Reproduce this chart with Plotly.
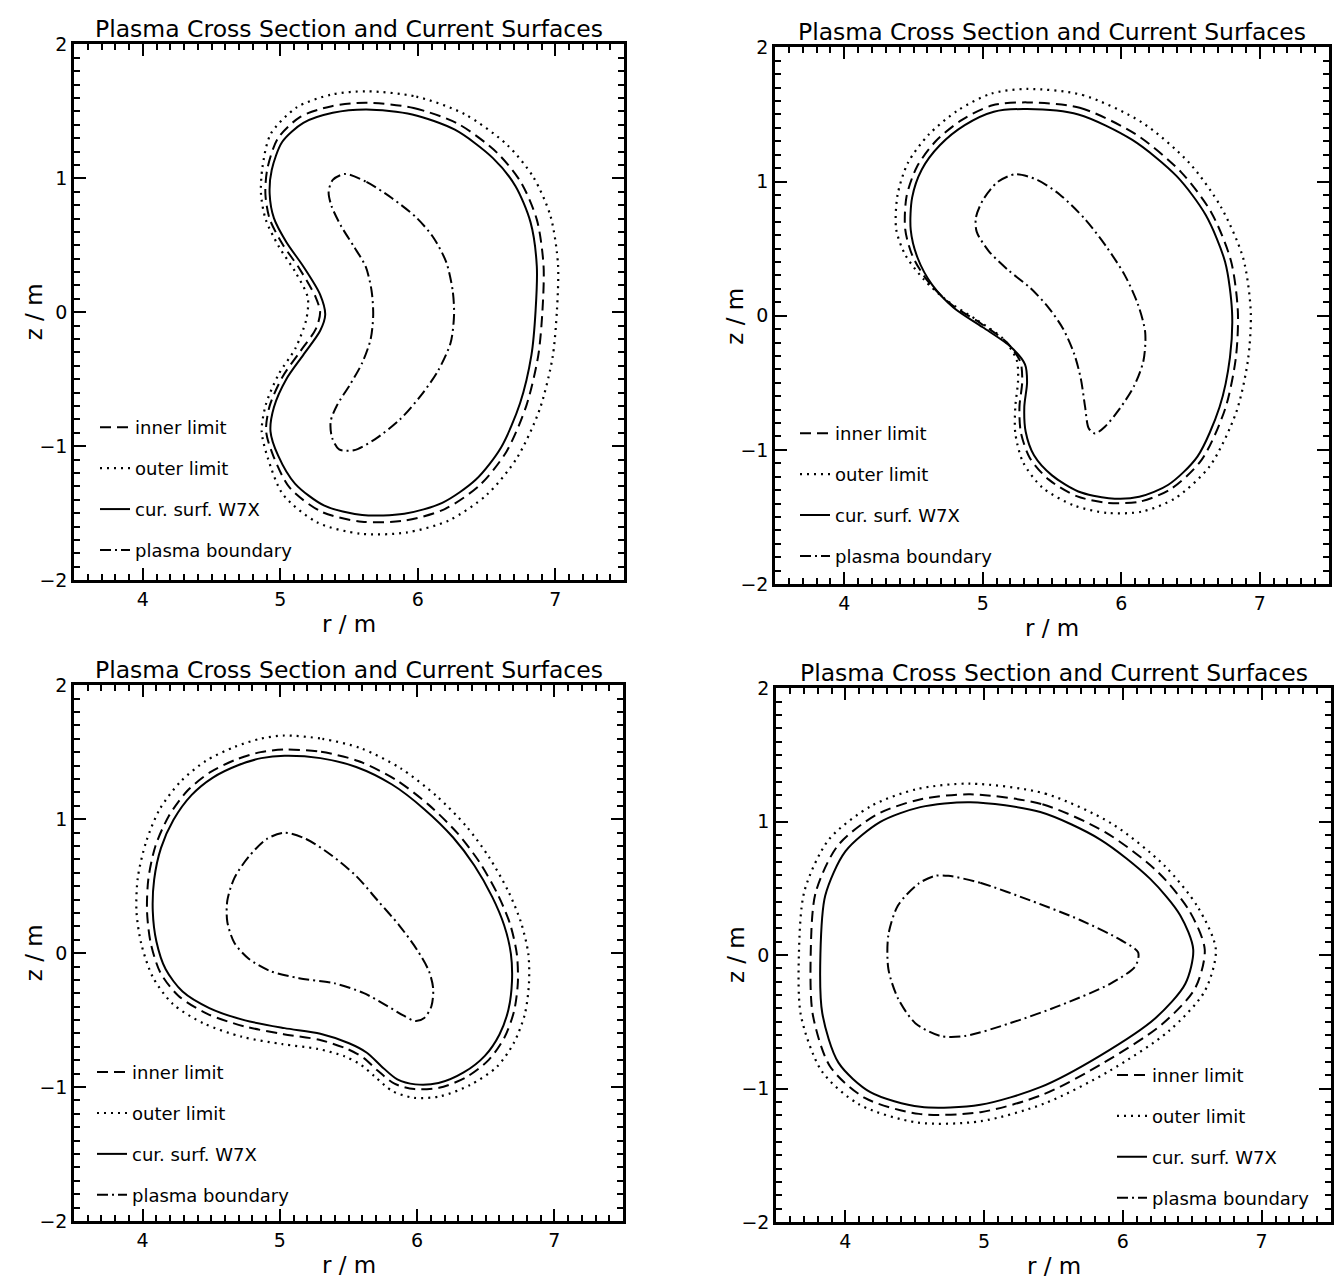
import plotly.graph_objects as go

W, H = 1341, 1288
FONT = "DejaVu Sans"

TITLE = "Plasma Cross Section and Current Surfaces"
R_LABEL = "r / m"
Z_LABEL = "z / m"
R_TICKS = [4, 5, 6, 7]
Z_TICKS = [-2, -1, 0, 1, 2]
SERIES_NAMES = ["inner limit", "outer limit", "cur. surf. W7X", "plasma boundary"]

# ---------------- panel 1 (top left) ----------------
p1_cur_r = [5.627, 5.96, 6.27, 6.545, 6.71, 6.82, 6.866, 6.857, 6.827, 6.744, 6.606, 6.423, 6.178, 5.902,
            5.596, 5.321, 5.107, 4.984, 4.929, 4.954, 5.045, 5.168, 5.29, 5.327, 5.29, 5.168, 5.045, 4.954,
            4.923, 4.938, 5.015, 5.168, 5.382]
p1_cur_z = [1.514, 1.477, 1.363, 1.153, 0.943, 0.673, 0.342, 0.012, -0.318, -0.679, -1.009, -1.249, -1.423,
            -1.505, -1.514, -1.444, -1.279, -1.069, -0.889, -0.709, -0.498, -0.318, -0.138, -0.018, 0.132,
            0.342, 0.523, 0.703, 0.883, 1.063, 1.273, 1.414, 1.489]
p1_inner_r = [5.627, 5.97, 6.295, 6.58, 6.752, 6.867, 6.915, 6.907, 6.876, 6.79, 6.646, 6.453, 6.196, 5.907,
              5.593, 5.301, 5.07, 4.952, 4.897, 4.923, 5.017, 5.14, 5.26, 5.29, 5.258, 5.14, 5.017, 4.923,
              4.892, 4.906, 4.982, 5.146, 5.375]
p1_inner_z = [1.564, 1.525, 1.406, 1.188, 0.968, 0.688, 0.347, 0.012, -0.326, -0.697, -1.039, -1.289, -1.47,
              -1.555, -1.564, -1.49, -1.312, -1.079, -0.889, -0.699, -0.481, -0.3, -0.122, 0.0, 0.112, 0.325,
              0.508, 0.697, 0.883, 1.07, 1.297, 1.459, 1.539]
p1_outer_r = [5.63, 5.99, 6.34, 6.65, 6.84, 6.965, 7.02, 7.012, 6.98, 6.885, 6.72, 6.505, 6.225, 5.915, 5.585,
              5.27, 5.02, 4.91, 4.865, 4.895, 4.99, 5.11, 5.19, 5.2, 5.11, 4.99, 4.895, 4.86, 4.87, 4.93,
              5.12, 5.37]
p1_outer_z = [1.65, 1.61, 1.48, 1.25, 1.01, 0.72, 0.36, 0.012, -0.34, -0.73, -1.09, -1.36, -1.555, -1.645,
              -1.654, -1.57, -1.36, -1.09, -0.889, -0.69, -0.46, -0.27, -0.05, 0.11, 0.3, 0.49, 0.69, 0.883,
              1.08, 1.33, 1.53, 1.625]
p1_plasma_r = [5.474, 5.627, 5.811, 5.994, 6.117, 6.208, 6.254, 6.264, 6.239, 6.147, 6.025, 5.872, 5.688,
               5.535, 5.428, 5.376, 5.367, 5.413, 5.505, 5.596, 5.658, 5.676, 5.664, 5.621, 5.535, 5.443,
               5.373, 5.352, 5.382]
p1_plasma_z = [1.033, 0.973, 0.853, 0.703, 0.553, 0.372, 0.162, -0.018, -0.228, -0.438, -0.619, -0.799,
               -0.949, -1.03, -1.024, -0.934, -0.814, -0.694, -0.544, -0.378, -0.198, -0.018, 0.162, 0.342,
               0.492, 0.643, 0.793, 0.898, 0.988]

# ---------------- panel 2 (top right) ----------------
p2_cur_r = [5.32, 5.69, 6.08, 6.40, 6.61, 6.75, 6.80, 6.785, 6.71, 6.55, 6.34, 6.13, 5.91, 5.69, 5.50, 5.37,
            5.31, 5.30, 5.32, 5.305, 5.20, 5.00, 4.79, 4.635, 4.53, 4.48, 4.49, 4.56, 4.69, 4.87, 5.08]
p2_cur_z = [1.54, 1.50, 1.31, 1.04, 0.75, 0.40, 0.03, -0.31, -0.68, -1.05, -1.26, -1.35, -1.36, -1.31, -1.19,
            -1.04, -0.865, -0.68, -0.495, -0.363, -0.23, -0.086, 0.06, 0.23, 0.43, 0.64, 0.88, 1.09, 1.27,
            1.42, 1.52]
p2_inner_r = [5.32, 5.70, 6.105, 6.432, 6.65, 6.792, 6.842, 6.827, 6.75, 6.58, 6.36, 6.137, 5.905, 5.678,
              5.475, 5.34, 5.275, 5.265, 5.285, 5.272, 5.175, 4.977, 4.765, 4.605, 4.493, 4.44, 4.45, 4.525,
              4.66, 4.85, 5.07]
p2_inner_z = [1.59, 1.55, 1.352, 1.07, 0.77, 0.41, 0.03, -0.317, -0.695, -1.075, -1.29, -1.385, -1.395,
              -1.345, -1.22, -1.06, -0.87, -0.68, -0.49, -0.345, -0.2, -0.052, 0.09, 0.255, 0.445, 0.645,
              0.89, 1.11, 1.30, 1.46, 1.568]
p2_outer_r = [5.32, 5.72, 6.15, 6.49, 6.72, 6.88, 6.935, 6.915, 6.83, 6.64, 6.39, 6.15, 5.9, 5.66, 5.43,
              5.29, 5.235, 5.235, 5.255, 5.245, 5.15, 4.955, 4.745, 4.575, 4.44, 4.375, 4.385, 4.46, 4.61,
              4.82, 5.06]
p2_outer_z = [1.69, 1.645, 1.44, 1.14, 0.81, 0.43, 0.03, -0.33, -0.72, -1.12, -1.36, -1.46, -1.47, -1.415,
              -1.28, -1.09, -0.875, -0.68, -0.48, -0.33, -0.175, -0.03, 0.11, 0.27, 0.455, 0.645, 0.9, 1.14,
              1.35, 1.53, 1.655]
p2_plasma_r = [5.24, 5.397, 5.555, 5.739, 5.897, 6.028, 6.12, 6.173, 6.16, 6.094, 5.989, 5.884, 5.81, 5.765,
               5.739, 5.708, 5.66, 5.581, 5.476, 5.345, 5.187, 5.043, 4.956, 4.951, 5.003, 5.108]
p2_plasma_z = [1.055, 1.01, 0.904, 0.719, 0.508, 0.297, 0.086, -0.125, -0.337, -0.521, -0.693, -0.825,
               -0.878, -0.838, -0.68, -0.469, -0.284, -0.099, 0.059, 0.205, 0.337, 0.482, 0.627, 0.733,
               0.865, 0.997]

# ---------------- panel 3 (bottom left) ----------------
p3_cur_r = [5.034, 5.295, 5.556, 5.817, 6.052, 6.261, 6.417, 6.548, 6.634, 6.683, 6.691, 6.665, 6.6, 6.495,
            6.339, 6.156, 5.987, 5.856, 5.739, 5.634, 5.504, 5.295, 5.034, 4.747, 4.486, 4.291, 4.168, 4.1,
            4.074, 4.084, 4.134, 4.225, 4.356, 4.512, 4.695, 4.865]
p3_cur_z = [1.474, 1.456, 1.39, 1.259, 1.075, 0.865, 0.654, 0.418, 0.208, -0.003, -0.213, -0.423, -0.607,
            -0.765, -0.891, -0.97, -0.98, -0.943, -0.844, -0.744, -0.673, -0.602, -0.56, -0.502, -0.41,
            -0.287, -0.121, 0.089, 0.313, 0.549, 0.786, 0.996, 1.18, 1.311, 1.403, 1.456]
p3_inner_r = [5.034, 5.30, 5.57, 5.84, 6.085, 6.297, 6.457, 6.59, 6.677, 6.726, 6.734, 6.706, 6.636, 6.522,
              6.355, 6.16, 5.98, 5.835, 5.71, 5.612, 5.49, 5.287, 5.027, 4.737, 4.468, 4.26, 4.128, 4.058,
              4.032, 4.042, 4.094, 4.19, 4.326, 4.49, 4.682, 4.86]
p3_inner_z = [1.52, 1.503, 1.435, 1.298, 1.107, 0.892, 0.675, 0.433, 0.218, -0.003, -0.218, -0.435, -0.63,
              -0.797, -0.928, -1.006, -1.015, -0.975, -0.875, -0.784, -0.715, -0.647, -0.605, -0.546,
              -0.452, -0.318, -0.143, 0.08, 0.313, 0.556, 0.802, 1.022, 1.212, 1.349, 1.446, 1.501]
p3_outer_r = [5.03, 5.31, 5.59, 5.88, 6.145, 6.36, 6.525, 6.665, 6.755, 6.81, 6.815, 6.785, 6.705, 6.58,
              6.385, 6.165, 5.975, 5.82, 5.69, 5.585, 5.47, 5.275, 5.02, 4.725, 4.445, 4.22, 4.075, 3.99,
              3.955, 3.965, 4.025, 4.125, 4.28, 4.46, 4.67, 4.855]
p3_outer_z = [1.625, 1.6, 1.53, 1.38, 1.17, 0.945, 0.715, 0.46, 0.235, -0.003, -0.225, -0.455, -0.67, -0.85,
              -0.985, -1.07, -1.08, -1.03, -0.92, -0.83, -0.77, -0.715, -0.68, -0.625, -0.525, -0.38, -0.18,
              0.07, 0.313, 0.565, 0.83, 1.075, 1.285, 1.435, 1.54, 1.6]
p3_plasma_r = [5.034, 5.191, 5.373, 5.556, 5.713, 5.869, 6.0, 6.086, 6.117, 6.104, 6.052, 5.987, 5.895,
               5.765, 5.608, 5.4, 5.139, 4.93, 4.773, 4.669, 4.617, 4.617, 4.669, 4.773, 4.904]
p3_plasma_z = [0.899, 0.852, 0.733, 0.576, 0.392, 0.208, 0.024, -0.134, -0.265, -0.397, -0.484, -0.507,
               -0.463, -0.384, -0.297, -0.226, -0.187, -0.134, -0.042, 0.076, 0.234, 0.392, 0.562, 0.72,
               0.852]

# ---------------- panel 4 (bottom right) ----------------
p4_cur_r = [4.90, 5.405, 5.837, 6.197, 6.413, 6.507, 6.45, 6.234, 5.837, 5.405, 4.973, 4.54, 4.18, 3.95,
            3.834, 3.82, 3.855, 4.0, 4.252, 4.54]
p4_cur_z = [1.146, 1.072, 0.866, 0.571, 0.299, 0.042, -0.215, -0.473, -0.753, -0.99, -1.122, -1.137, -1.027,
            -0.806, -0.438, 0.004, 0.446, 0.777, 0.998, 1.109]
p4_inner_r = [4.90, 5.42, 5.875, 6.255, 6.48, 6.59, 6.52, 6.28, 5.865, 5.425, 4.975, 4.53, 4.14, 3.89,
              3.765, 3.75, 3.785, 3.945, 4.22, 4.53]
p4_inner_z = [1.205, 1.13, 0.92, 0.62, 0.33, 0.042, -0.25, -0.52, -0.805, -1.045, -1.177, -1.19, -1.07,
              -0.835, -0.445, 0.004, 0.465, 0.82, 1.05, 1.165]
p4_outer_r = [4.90, 5.44, 5.92, 6.3, 6.54, 6.67, 6.59, 6.33, 5.9, 5.44, 4.975, 4.52, 4.1, 3.83, 3.68, 3.665,
              3.705, 3.88, 4.19, 4.52]
p4_outer_z = [1.285, 1.21, 0.985, 0.67, 0.36, 0.042, -0.27, -0.57, -0.87, -1.11, -1.245, -1.255, -1.12,
              -0.87, -0.455, 0.004, 0.48, 0.865, 1.12, 1.245]
p4_plasma_r = [4.742, 4.972, 5.332, 5.692, 5.98, 6.11, 6.09, 5.908, 5.548, 5.188, 4.864, 4.684, 4.504,
               4.38, 4.31, 4.31, 4.38, 4.526, 4.648]
p4_plasma_z = [0.594, 0.542, 0.41, 0.263, 0.116, 0.02, -0.083, -0.215, -0.377, -0.51, -0.606, -0.606,
               -0.51, -0.326, -0.105, 0.152, 0.373, 0.535, 0.594]

PANELS = [
    [(p1_inner_r, p1_inner_z), (p1_outer_r, p1_outer_z), (p1_cur_r, p1_cur_z), (p1_plasma_r, p1_plasma_z)],
    [(p2_inner_r, p2_inner_z), (p2_outer_r, p2_outer_z), (p2_cur_r, p2_cur_z), (p2_plasma_r, p2_plasma_z)],
    [(p3_inner_r, p3_inner_z), (p3_outer_r, p3_outer_z), (p3_cur_r, p3_cur_z), (p3_plasma_r, p3_plasma_z)],
    [(p4_inner_r, p4_inner_z), (p4_outer_r, p4_outer_z), (p4_cur_r, p4_cur_z), (p4_plasma_r, p4_plasma_z)],
]

# line style for each series: inner, outer, current surface, plasma boundary
DASHES = ["11px,6px", "2px,5px", "solid", "11px,4px,2px,4px"]
WIDTHS = [2.0, 2.2, 2.0, 2.0]

# plot boxes in pixels: left, right, top, bottom
BOXES = [(74, 624, 34, 579), (775, 1329, 37, 583), (74, 623, 686, 1231), (776, 1331, 689, 1232)]
# legend box top-left corner in pixels
LEGEND_AT = [(95, 405), (795, 411), (92, 1061), (1112, 1064)]


def closed(a):
    return list(a) + [a[0]]


fig = go.Figure()

for p, curves in enumerate(PANELS):
    sfx = "" if p == 0 else str(p + 1)
    for k, (r, z) in enumerate(curves):
        fig.add_trace(go.Scatter(
            x=closed(r), y=closed(z), mode="lines", name=SERIES_NAMES[k],
            line=dict(color="black", width=WIDTHS[k], dash=DASHES[k], shape="spline", smoothing=0.8),
            xaxis="x" + sfx, yaxis="y" + sfx,
            legend="legend" + sfx, legendgroup=f"p{p}s{k}", showlegend=True,
            hoverinfo="skip",
        ))

axis_common = dict(
    showline=True, linewidth=2.5, linecolor="black", mirror="allticks",
    ticks="inside", ticklen=12, tickwidth=2, tickcolor="black",
    showgrid=False, zeroline=False, fixedrange=True,
    tickfont=dict(family=FONT, size=19, color="black"),
    minor=dict(ticks="inside", ticklen=6, tickwidth=1.5, tickcolor="black", tick0=0, dtick=0.1),
)

layout = dict(
    width=W, height=H, margin=dict(l=0, r=0, t=0, b=0),
    paper_bgcolor="white", plot_bgcolor="white",
    font=dict(family=FONT, color="black"),
    annotations=[],
)

for p, (l, r, t, b) in enumerate(BOXES):
    sfx = "" if p == 0 else str(p + 1)
    layout["xaxis" + sfx] = dict(axis_common, domain=[l / W, r / W], range=[3.5, 7.5],
                                 tickvals=R_TICKS, anchor="y" + sfx)
    layout["yaxis" + sfx] = dict(axis_common, domain=[1 - b / H, 1 - t / H], range=[-2, 2],
                                 tickvals=Z_TICKS, anchor="x" + sfx)
    cx = (l + r) / 2
    cy = (t + b) / 2
    layout["annotations"] += [
        dict(text=TITLE, x=cx / W, y=1 - (t - 16) / H, xref="paper", yref="paper",
             xanchor="center", yanchor="middle", showarrow=False,
             font=dict(family=FONT, size=23.5, color="black")),
        dict(text=R_LABEL, x=cx / W, y=1 - (b + 45) / H, xref="paper", yref="paper",
             xanchor="center", yanchor="middle", showarrow=False,
             font=dict(family=FONT, size=23, color="black")),
        dict(text=Z_LABEL, x=(l - 40) / W, y=1 - cy / H, xref="paper", yref="paper",
             xanchor="center", yanchor="middle", showarrow=False, textangle=-90,
             font=dict(family=FONT, size=23, color="black")),
    ]
    lx, ly = LEGEND_AT[p]
    layout["legend" + sfx] = dict(
        x=lx / W, y=1 - ly / H, xanchor="left", yanchor="top",
        xref="paper", yref="paper",
        bgcolor="rgba(0,0,0,0)", borderwidth=0, tracegroupgap=14.5,
        itemwidth=30, itemclick=False, itemdoubleclick=False,
        font=dict(family=FONT, size=18, color="black"),
    )

fig.update_layout(**layout)
fig.write_html("out.html")
